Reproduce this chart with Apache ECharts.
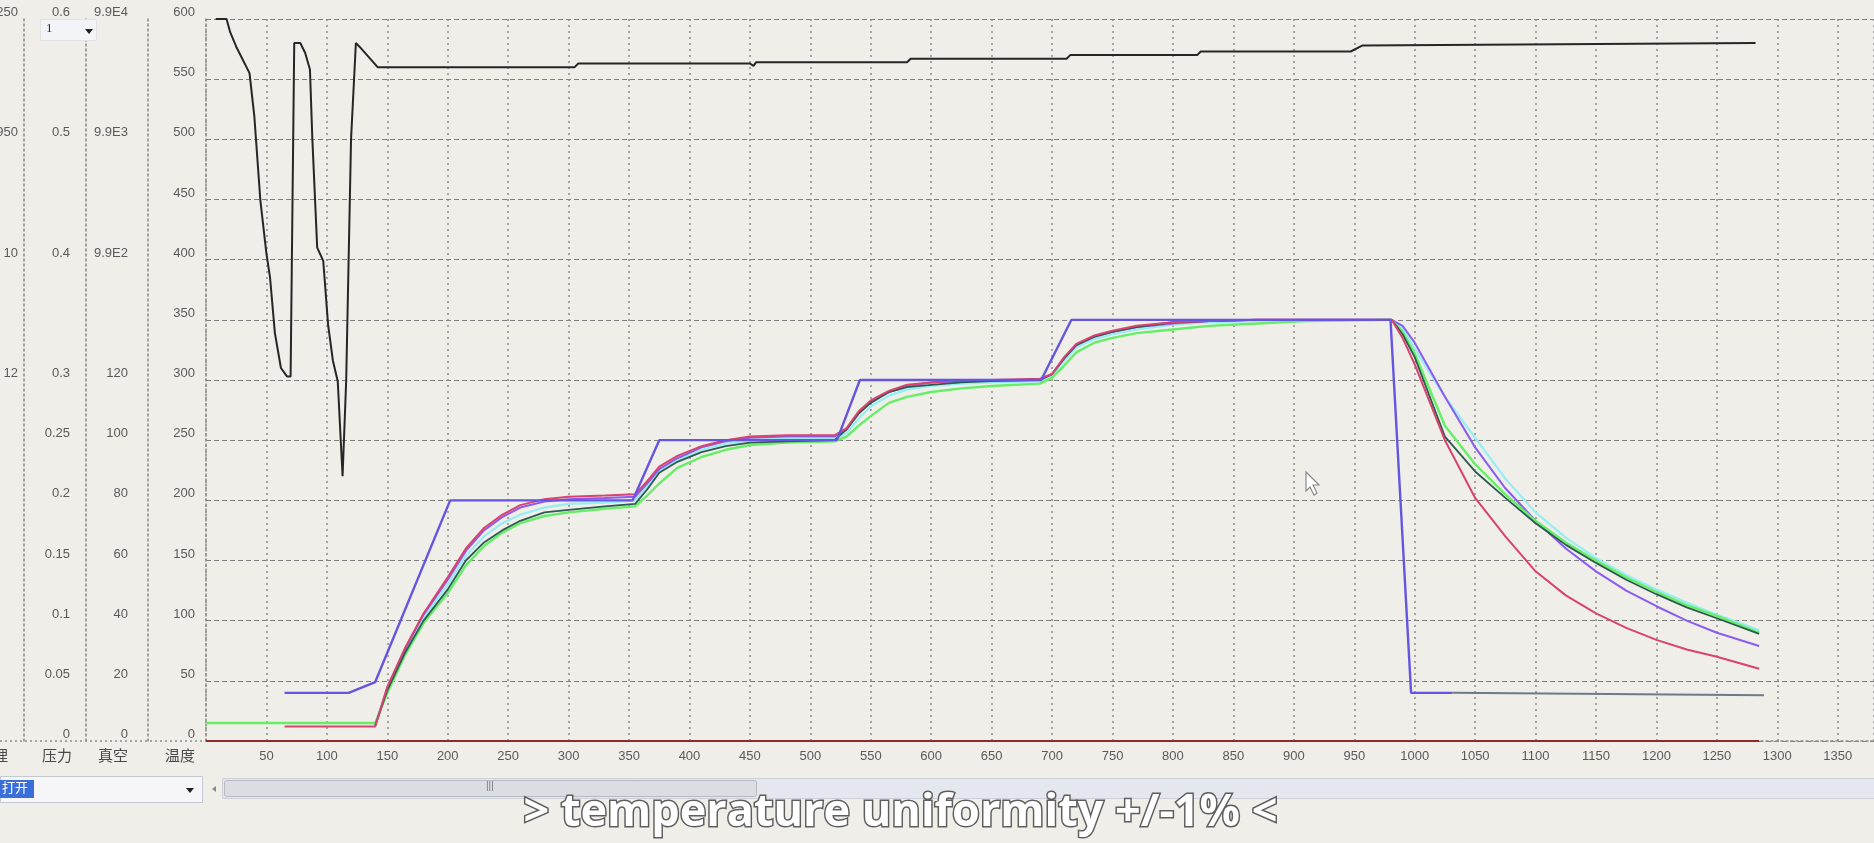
<!DOCTYPE html>
<html>
<head>
<meta charset="utf-8">
<script src="https://cdn.jsdelivr.net/npm/echarts@6/dist/echarts.min.js"></script>
<style>
html,body{margin:0;padding:0;background:#efeee9;}
#c{width:1874px;height:843px;}
</style>
</head>
<body>
<div id="c"></div>
<script>
// ---- time axis (shared by the thermocouple curves) ----
const T = [0,65,140,150,165,180,200,215,230,245,
           260,280,300,330,355,365,375,390,410,430,
           450,480,520,530,540,550,565,580,600,625,
           650,690,700,710,720,735,750,770,800,830,
           870,910,975,981,990,1000,1025,1050,1075,1100,
           1125,1150,1175,1200,1225,1250,1285];

const RED = [null,12,12,45,78,106,136,160,177,188,
             196,201,203,204,205,216,228,237,245,250,
             253,254,254,260,274,283,291,296,298,300,
             300,301,305,319,330,337,341,345,348,349,
             350,350,350,350,335,313,250,202,170,141,
             121,106,94,84,76,70,60];
const PURPLE = [null,null,13,44,77,105,134,158,175,186,
             194,199,201,202,203,214,226,235,244,249,
             252,253,253,259,273,282,290,295,298,299,
             300,300,305,318,329,336,340,344,347,349,
             350,350,350,350,345,331,286,244,210,183,
             160,141,125,112,100,90,79];
const DARK = [null,null,13,42,74,100,126,150,165,175,
             183,190,192,195,197,209,223,232,240,245,
             248,249,250,259,272,281,290,294,296,298,
             299,300,305,318,329,336,340,344,348,349,
             350,350,350,350,338,319,253,224,202,181,
             163,148,134,122,111,102,89];
const CYAN = [null,null,13,43,76,103,130,154,170,181,
             188,194,197,198,200,211,224,233,242,247,
             250,251,251,256,268,278,287,292,295,297,
             298,299,304,316,327,334,338,342,346,348,
             349,350,350,350,343,326,286,252,218,190,
             169,152,138,126,115,105,92];
const GREEN = [15,15,15,40,72,98,123,146,162,173,
             181,187,190,193,195,204,214,227,236,242,
             246,248,249,253,262,270,281,286,290,293,
             295,297,302,312,323,331,335,339,342,345,
             347,349,350,350,340,322,262,230,205,183,
             165,150,136,124,113,104,90];

// ---- setpoint ----
const SP_T = [65,118,140,202,353,375,522,541,691,716,980,997,1031];
const SP_V = [40,40,49,200,200,250,250,300,300,350,350,40,40];
const TAIL_T = [1031,1289];
const TAIL_V = [40,38];

// ---- vacuum / pressure trace ----
const BLACK_T = [8,17,20,25,36,40,45,50,53,57,62,67,70,73,78,82,86,88,92,97,
                 101,105,109,113,116,120,124,127,142,305,308,450,453,455,580,583,712,715,820,823,
                 947,957,1282];
const BLACK_V = [600,600,589,577,555,519,449,405,385,339,310,303,303,580,580,572,558,500,410,399,
                 346,316,299,220,300,500,580,577,560,560,563,563,561,564,564,567,567,570,570,573,
                 573,578,580];

const BASE_T = [0,1285];
const BASE_V = [0,0];

// ---- axis tick labels (one per 50 units of the temperature scale) ----
const TEMP_LABELS = ['0','50','100','150','200','250','300','350','400','450','500','550','600'];
const VAC_LABELS  = ['0','20','40','60','80','100','120','','9.9E2','','9.9E3','','9.9E4'];
const PRES_LABELS = ['0','0.05','0.1','0.15','0.2','0.25','0.3','','0.4','','0.5','','0.6'];
const LEFT_LABELS = ['','','','','','','12','','10','','950','','1250'];
const AXIS_NAMES  = ['温度','真空','压力','处理'];
const CAPTION = '> temperature uniformity +/-1% <';

const pair = (xs, ys) => xs.map((x,i)=>[x, ys[i]]);

const chart = echarts.init(document.getElementById('c'), null, {renderer:'canvas'});

const labelFont = {fontFamily:'Liberation Sans', fontSize:13, color:'#5a5a5a'};
const nameStyle = (pr) => ({fontFamily:'Noto Sans CJK SC', fontSize:15, color:'#4a4a4a', align:'right', verticalAlign:'middle', padding:[0,pr,0,0]});
const dotted = {color:'#8f8f8f', type:[2,3], width:1.6};

function yAx(idx, labels, offset, margin, name, pr, extra){
  return Object.assign({
    type:'value', min:0, max:600, interval:50, position:'left', offset:offset,
    name:name, nameLocation:'start', nameGap:14, nameTextStyle:nameStyle(pr),
    axisLine:{show:true, onZero:false, lineStyle:dotted},
    axisTick:{show:false},
    axisLabel:Object.assign({margin:margin, verticalAlign:'bottom', formatter:(v)=>labels[Math.round(v/50)]||''}, labelFont),
    splitLine:{show:false}
  }, extra||{});
}

const lineS = (name, data, color, width, z) => ({
  name, type:'line', data, showSymbol:false, symbol:'none', connectNulls:false,
  lineStyle:{color, width}, itemStyle:{color}, z, silent:true, animation:false
});

const option = {
  backgroundColor:'#efeee9',
  animation:false,
  grid:{left:206, right:0, top:19, bottom:102, containLabel:false, outerBoundsMode:'none'},
  xAxis:{
    type:'value', min:0, max:1380, interval:50,
    axisLine:{show:true, lineStyle:dotted},
    axisTick:{show:false},
    axisLabel:Object.assign({margin:9, formatter:(v)=> (v===0 || v%50!==0) ? '' : String(v)}, labelFont),
    splitLine:{show:true, lineStyle:{color:'#8c8c8c', type:[2,4], width:1.5}}
  },
  yAxis:[
    yAx(0, TEMP_LABELS, 0, 11, AXIS_NAMES[0], 11, {splitLine:{show:true, lineStyle:{color:'#7e7e7e', type:[5,3], width:1.2}}}),
    yAx(1, VAC_LABELS, 58, 20, AXIS_NAMES[1], 20),
    yAx(2, PRES_LABELS, 120, 16, AXIS_NAMES[2], 14),
    yAx(3, LEFT_LABELS, 182, 6, AXIS_NAMES[3], 16, {})
  ],
  series:[
    lineS('base', pair(BASE_T, BASE_V), '#8e2a2a', 2.2, 2),
    lineS('black', pair(BLACK_T, BLACK_V), '#262626', 2, 3),
    lineS('tail', pair(TAIL_T, TAIL_V), '#6f7a86', 2, 3),
    lineS('cyan', pair(T, CYAN), '#96eef2', 2.2, 4),
    lineS('purple', pair(T, PURPLE), '#8a5cf0', 2, 5),
    lineS('green', pair(T, GREEN), '#66ee66', 2.4, 6),
    lineS('dark', pair(T, DARK), '#2d5a50', 1.8, 7),
    lineS('red', pair(T, RED), '#d8436f', 2, 8),
    lineS('setpoint', pair(SP_T, SP_V), '#6655e0', 2.4, 9)
  ],
  graphic:[
    // small selector at the top-left
    {type:'rect', left:40, top:19, shape:{width:56, height:21}, style:{fill:'#f3f4f7', stroke:'#e0e2e8'}, z:20},
    {type:'text', left:46, top:22, style:{text:'1', font:'13px Liberation Serif', fill:'#333'}, z:21},
    {type:'polygon', shape:{points:[[85,29],[93,29],[89,34]]}, style:{fill:'#222'}, z:21},
    // bottom dotted baseline across the axis columns
    {type:'line', shape:{x1:0, y1:741, x2:206, y2:741}, style:{stroke:'#8f8f8f', lineDash:[2,3], lineWidth:1.6}, z:1},
    // bottom control strip
    {type:'rect', left:0, top:776, shape:{width:202, height:26}, style:{fill:'#f6f6f8', stroke:'#c4c8d0'}, z:20},
    {type:'rect', left:0, top:780, shape:{width:34, height:18}, style:{fill:'#3a6fd9'}, z:21},
    {type:'text', left:2, top:781, style:{text:'打开', font:'13px "Noto Sans CJK SC"', fill:'#ffffff'}, z:22},
    {type:'polygon', shape:{points:[[186,788],[194,788],[190,793]]}, style:{fill:'#222'}, z:21},
    {type:'polygon', shape:{points:[[212,789],[216,786],[216,792]]}, style:{fill:'#888'}, z:21},
    {type:'rect', left:222, top:778, shape:{width:1652, height:20}, style:{fill:'#e5e7ee', stroke:'#cdd0d8'}, z:20},
    {type:'rect', left:224, top:780, shape:{width:532, height:16, r:2}, style:{fill:'#dcdde3', stroke:'#b7bac2'}, z:21},
    {type:'text', left:486, top:781, style:{text:'|||', font:'10px Liberation Sans', fill:'#777'}, z:22},
    // mouse pointer
    {type:'polygon', shape:{points:[[1306,472],[1306,491],[1310,487],[1314,495],[1317,493],[1313,485],[1319,485]]},
     style:{fill:'#ffffff', stroke:'#8a8a8a', lineWidth:1.2}, z:30},
    // caption
    {type:'text', left:522, top:789, style:{text:CAPTION, font:'bold 45px "Open Sans"', fill:'#ffffff', stroke:'#5e5e5e', lineWidth:3}, z:40}
  ]
};
chart.setOption(option);
</script>
</body>
</html>
